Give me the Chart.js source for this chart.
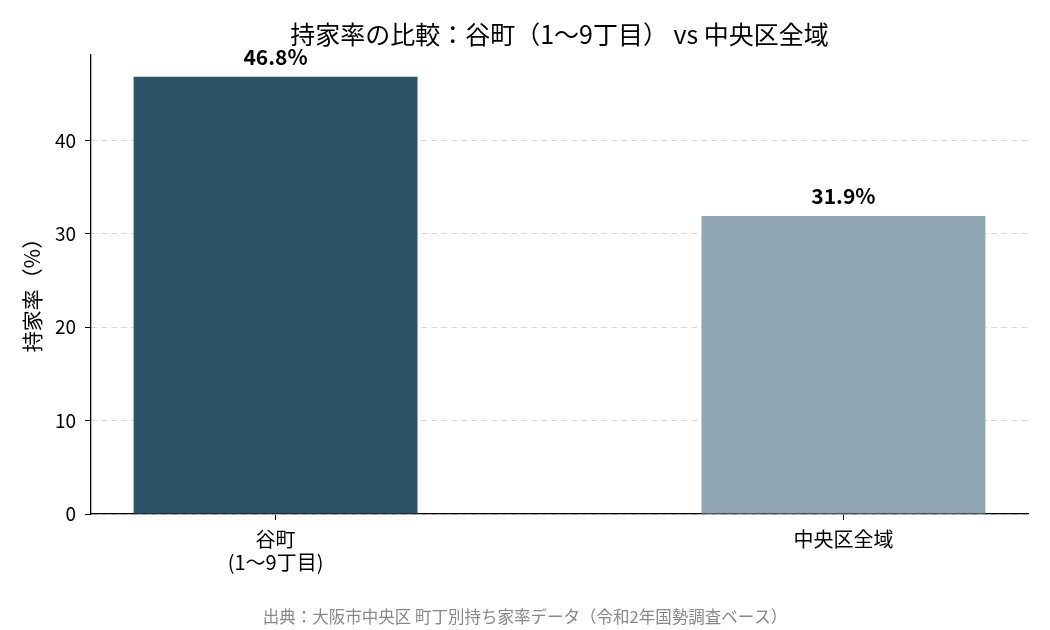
<!DOCTYPE html>
<html>
<head>
<meta charset="utf-8">
<script src="https://cdn.jsdelivr.net/npm/chart.js@4/dist/chart.umd.min.js"></script>
<style>
  body { margin: 0; background: #fff; }
  #wrap { width: 1050px; height: 630px; }
</style>
</head>
<body>
<div id="wrap"><canvas id="barChart"></canvas></div>
<script>
// データ
const categories = [["谷町", "(1〜9丁目)"], "中央区全域"];
const ownRate = [46.8, 31.9];
const yTicks = [0, 10, 20, 30, 40];
const barColors = ["#2E5366", "#8FA5B1"];

const titleText = "持家率の比較：谷町（1〜9丁目） vs 中央区全域";
const yLabel = "持家率（%）";
const sourceText = "出典：大阪市中央区 町丁別持ち家率データ（令和2年国勢調査ベース）";

Chart.defaults.font.family = "'Noto Sans CJK JP', 'Noto Sans', sans-serif";
Chart.defaults.color = "#000";

// タイトル・ラベル・数値を描く
const textPlugin = {
    id: 'texts',
    afterDatasetsDraw(chart) {
        const ctx = chart.ctx;
        const area = chart.chartArea;
        ctx.save();
        ctx.textAlign = 'center';
        ctx.textBaseline = 'middle';
        // 数値ラベル
        ctx.font = "bold 21px 'Noto Sans CJK JP'";
        ctx.fillStyle = '#000';
        chart.getDatasetMeta(0).data.forEach((bar, i) => {
            ctx.fillText(ownRate[i].toFixed(1) + '%', bar.x, bar.y - 20);
        });
        // タイトル
        ctx.font = "25px 'Noto Sans CJK JP'";
        ctx.fillText(titleText, (area.left + area.right) / 2, 34);
        // 出典
        ctx.font = "16.5px 'Noto Sans CJK JP'";
        ctx.fillStyle = '#888';
        ctx.fillText(sourceText, chart.width / 2, 617);
        // 縦軸ラベル
        ctx.fillStyle = '#000';
        ctx.font = "21px 'Noto Sans CJK JP'";
        ctx.translate(32, 290);
        ctx.rotate(-Math.PI / 2);
        ctx.fillText(yLabel, 0, 0);
        ctx.restore();
    }
};

new Chart(document.getElementById("barChart"), {
    type: 'bar',
    data: {
        datasets: [{
            data: ownRate.map((v, i) => ({ x: i, y: v })),
            backgroundColor: barColors,
            barPercentage: 1,
            categoryPercentage: 0.5
        }]
    },
    options: {
        responsive: true,
        maintainAspectRatio: false,
        animation: false,
        layout: { padding: { top: 55, right: 22, bottom: 0, left: 0 } },
        plugins: {
            legend: { display: false },
            tooltip: { enabled: false }
        },
        scales: {
            x: {
                type: 'linear',
                offset: false,
                min: -0.325,
                max: 1.325,
                afterBuildTicks: s => { s.ticks = categories.map((c, i) => ({ value: i })); },
                afterFit: s => { s.height = 116; },
                ticks: {
                    font: { size: 20, lineHeight: 1.15 },
                    color: '#000',
                    padding: 8,
                    maxRotation: 0,
                    callback: v => categories[v]
                },
                grid: { offset: false, drawOnChartArea: false, tickLength: 6, tickColor: '#000' },
                border: { color: '#000', width: 1.3 }
            },
            y: {
                min: 0,
                max: 49.14,
                afterBuildTicks: s => { s.ticks = yTicks.map(v => ({ value: v })); },
                afterFit: s => { s.width = 91; },
                ticks: { font: { size: 19 }, color: '#000', padding: 9 },
                grid: { color: '#d9d9d9', tickColor: '#000', tickLength: 6 },
                border: { color: '#000', width: 1.3, dash: [6, 4] }
            }
        }
    },
    plugins: [textPlugin]
});
</script>
</body>
</html>
